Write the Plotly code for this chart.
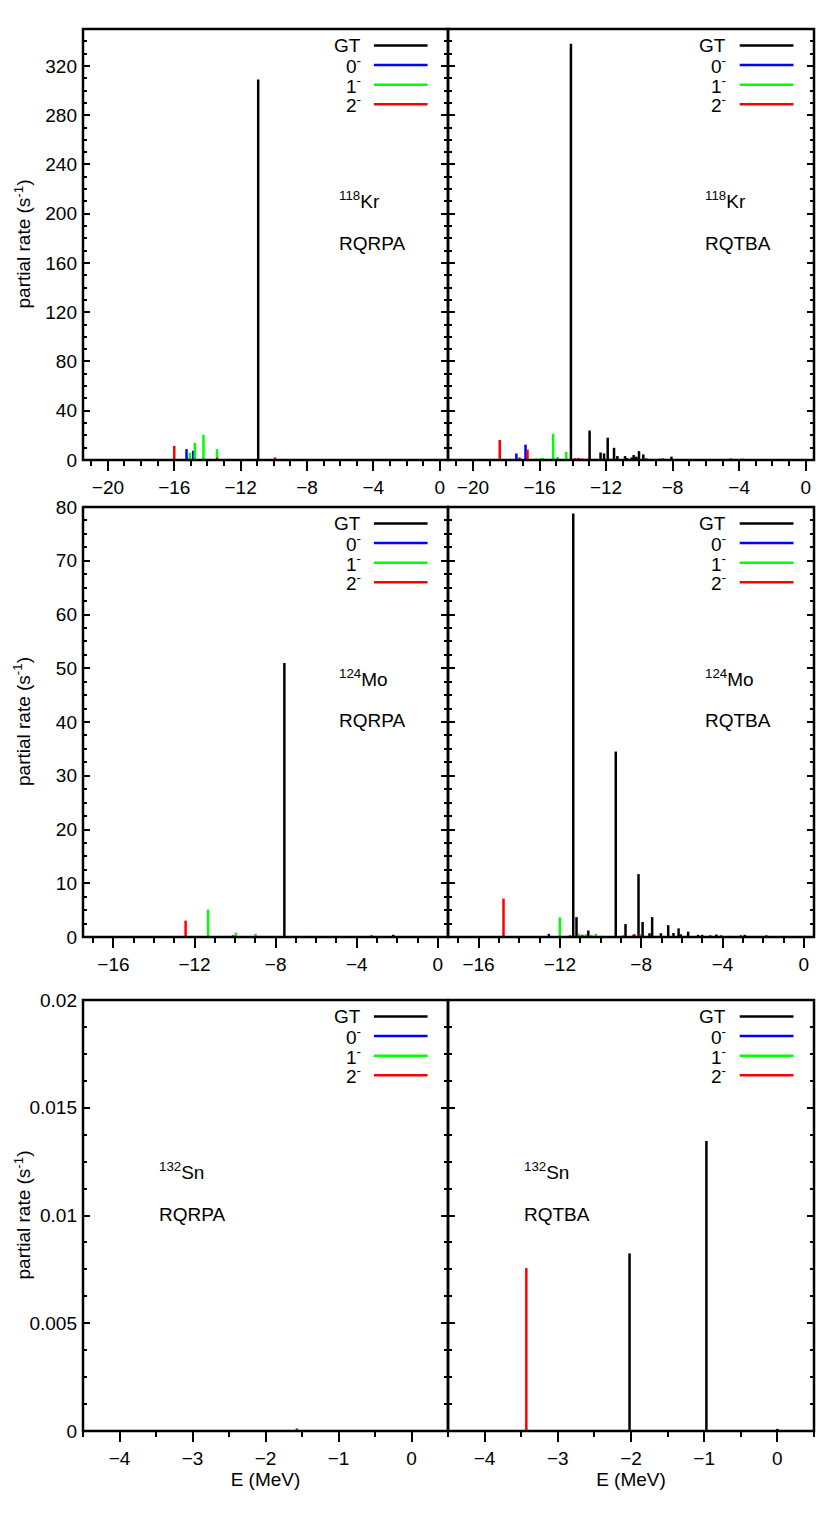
import plotly.graph_objects as go

# ---- data: decay energy E (MeV) and partial rate (1/s) per channel ----
# 118Kr, RQRPA
kr_qrpa_gt_e = [-10.94, -5.7]
kr_qrpa_gt_r = [309, 0.5]
kr_qrpa_0m_e = [-15.26, -14.86, -11.5]
kr_qrpa_0m_r = [8.8, 7.5, 0.3]
kr_qrpa_1m_e = [-15.06, -14.76, -14.24, -13.42, -12.58]
kr_qrpa_1m_r = [5.9, 13.9, 20.5, 8.8, 0.5]
kr_qrpa_2m_e = [-16.0, -15.2, -14.5, -14.1, -13.42, -9.92]
kr_qrpa_2m_r = [11.5, 1.0, 0.8, 1.0, 2.0, 2.1]

# 118Kr, RQTBA
kr_qtba_gt_e = [-14.11, -12.99, -12.33, -12.12, -11.9, -11.52, -11.32, -10.86, -10.74,
                -10.46, -10.34, -10.18, -10.02, -9.76, -9.6, -9.3, -8.8, -8.6, -8.5,
                -8.07, -7.6, -7.2, -6.8, -6.4, -6.0, -5.5, -5.0, -4.5, -3.8]
kr_qtba_gt_r = [338, 24, 6.1, 5.3, 18.1, 9.9, 3.2, 3.2, 1.6,
                2.1, 4.0, 2.7, 7.2, 4.5, 1.3, 0.8, 1.0, 1.2, 0.9,
                2.7, 0.6, 0.5, 0.5, 0.4, 0.5, 0.4, 0.4, 1.2, 1.0]
kr_qtba_0m_e = [-17.39, -16.84, -13.67, -13.09, -12.0]
kr_qtba_0m_r = [5.3, 12.5, 1.5, 1.0, 0.4]
kr_qtba_1m_e = [-15.9, -15.8, -15.18, -14.92, -14.39, -12.63, -11.7, -11.1]
kr_qtba_1m_r = [1.6, 1.6, 21.3, 2.4, 6.7, 1.0, 1.0, 0.5]
kr_qtba_2m_e = [-18.39, -17.2, -16.72, -16.2, -13.87, -13.63, -13.43, -12.2, -10.1]
kr_qtba_2m_r = [16.3, 2.1, 8.5, 1.0, 1.5, 1.5, 1.2, 0.5, 0.6]

# 124Mo, RQRPA
mo_qrpa_gt_e = [-7.57, -3.27, -2.2]
mo_qrpa_gt_r = [51.0, 0.3, 0.4]
mo_qrpa_0m_e = [-10.1]
mo_qrpa_0m_r = [0.3]
mo_qrpa_1m_e = [-11.33, -9.96, -8.99, -7.32]
mo_qrpa_1m_r = [5.1, 0.8, 0.6, 0.15]
mo_qrpa_2m_e = [-12.44, -6.54]
mo_qrpa_2m_r = [3.05, 0.2]

# 124Mo, RQTBA
mo_qtba_gt_e = [-11.34, -11.18, -10.6, -9.25, -8.77, -8.34, -8.13, -7.93, -7.59, -7.46,
                -7.03, -6.67, -6.41, -6.16, -6.05, -5.69, -5.2, -5.0, -4.6, -4.3,
                -4.07, -3.66, -3.1, -2.9, -2.4, -1.84]
mo_qtba_gt_r = [78.8, 3.7, 1.2, 34.5, 2.4, 0.5, 11.7, 2.8, 0.7, 3.7,
                0.7, 2.2, 0.75, 1.6, 0.5, 1.0, 0.4, 0.4, 0.3, 0.45,
                0.3, 0.2, 0.3, 0.4, 0.2, 0.3]
mo_qtba_0m_e = [-12.54, -11.5, -10.0]
mo_qtba_0m_r = [0.6, 0.3, 0.2]
mo_qtba_1m_e = [-12.0, -11.05, -10.72, -10.23, -9.9]
mo_qtba_1m_r = [3.67, 0.6, 0.5, 0.6, 0.2]
mo_qtba_2m_e = [-14.77, -10.89, -10.45, -8.87, -8.38, -8.08]
mo_qtba_2m_r = [7.15, 0.4, 0.3, 0.3, 0.4, 0.5]

# 132Sn, RQRPA
sn_qrpa_gt_e, sn_qrpa_gt_r = [], []
sn_qrpa_0m_e, sn_qrpa_0m_r = [], []
sn_qrpa_1m_e, sn_qrpa_1m_r = [], []
sn_qrpa_2m_e = [-1.57]
sn_qrpa_2m_r = [0.00012]

# 132Sn, RQTBA
sn_qtba_gt_e = [-2.02, -0.97, 0.0]
sn_qtba_gt_r = [0.00824, 0.01346, 0.0001]
sn_qtba_0m_e, sn_qtba_0m_r = [], []
sn_qtba_1m_e, sn_qtba_1m_r = [], []
sn_qtba_2m_e = [-3.43]
sn_qtba_2m_r = [0.00756]

channel_names = ["GT", "0<sup>-</sup>", "1<sup>-</sup>", "2<sup>-</sup>"]
channel_colors = ["#000000", "#0000ff", "#00ff00", "#ff0000"]
nuclei = ["<sup>118</sup>Kr", "<sup>124</sup>Mo", "<sup>132</sup>Sn"]
models = ["RQRPA", "RQTBA"]

panels = [
    [(kr_qrpa_gt_e, kr_qrpa_gt_r), (kr_qrpa_0m_e, kr_qrpa_0m_r), (kr_qrpa_1m_e, kr_qrpa_1m_r), (kr_qrpa_2m_e, kr_qrpa_2m_r)],
    [(kr_qtba_gt_e, kr_qtba_gt_r), (kr_qtba_0m_e, kr_qtba_0m_r), (kr_qtba_1m_e, kr_qtba_1m_r), (kr_qtba_2m_e, kr_qtba_2m_r)],
    [(mo_qrpa_gt_e, mo_qrpa_gt_r), (mo_qrpa_0m_e, mo_qrpa_0m_r), (mo_qrpa_1m_e, mo_qrpa_1m_r), (mo_qrpa_2m_e, mo_qrpa_2m_r)],
    [(mo_qtba_gt_e, mo_qtba_gt_r), (mo_qtba_0m_e, mo_qtba_0m_r), (mo_qtba_1m_e, mo_qtba_1m_r), (mo_qtba_2m_e, mo_qtba_2m_r)],
    [(sn_qrpa_gt_e, sn_qrpa_gt_r), (sn_qrpa_0m_e, sn_qrpa_0m_r), (sn_qrpa_1m_e, sn_qrpa_1m_r), (sn_qrpa_2m_e, sn_qrpa_2m_r)],
    [(sn_qtba_gt_e, sn_qtba_gt_r), (sn_qtba_0m_e, sn_qtba_0m_r), (sn_qtba_1m_e, sn_qtba_1m_r), (sn_qtba_2m_e, sn_qtba_2m_r)],
]

# axis settings per row
x_ranges = [[-21.5, 0.5], [-17.5, 0.5], [-4.5, 0.5]]
x_dticks = [4, 4, 1]
x_minor = [1, 1, 0.5]
y_ranges = [[0, 350], [0, 80], [0, 0.02]]
y_dticks = [40, 10, 0.005]
y_minor = [10, 2.5, 0.00125]

# figure geometry in pixels (the page body adds an 8 px offset)
W, H = 814, 1523
ML, MR, MT, MB = 75, 8, 21, 100
plot_h = H - MT - MB
x_split = 365 / (W - ML - MR)
row_px = [(21, 452), (499, 929), (992, 1423)]


def py(p):
    return (H - MB - p) / plot_h


FONT = "Liberation Sans, Arial, Helvetica, sans-serif"
FS = 19

fig = go.Figure()
layout = dict(
    width=W, height=H,
    margin=dict(l=ML, r=MR, t=MT, b=MB),
    plot_bgcolor="white", paper_bgcolor="white",
    font=dict(family=FONT, size=FS, color="black"),
    showlegend=False,
)
annotations = []
shapes = []

for k, chans in enumerate(panels):
    row, col = divmod(k, 2)
    idx = k + 1
    xa = "x" if idx == 1 else f"x{idx}"
    ya = "y" if idx == 1 else f"y{idx}"

    for (e, r), color in zip(chans, channel_colors):
        xs, ys = [], []
        for ei, ri in zip(e, r):
            xs += [ei, ei, None]
            ys += [0, ri, None]
        fig.add_trace(go.Scatter(x=xs, y=ys, mode="lines", xaxis=xa, yaxis=ya,
                                 line=dict(color=color, width=2.5), hoverinfo="skip"))

    top, bot = row_px[row]
    layout[f"xaxis{idx}"] = dict(
        domain=[0, x_split] if col == 0 else [x_split, 1],
        anchor=ya, range=x_ranges[row], dtick=x_dticks[row], tick0=0,
        ticks="outside", ticklen=10, tickwidth=1.5, tickcolor="black",
        minor=dict(dtick=x_minor[row], tick0=0, ticks="outside", ticklen=5, tickwidth=1.5),
        showline=False, showgrid=False, zeroline=False,
        tickfont=dict(size=FS),
    )
    if row == 2:
        layout[f"xaxis{idx}"]["title"] = dict(text="E (MeV)", standoff=2, font=dict(size=FS))
    layout[f"yaxis{idx}"] = dict(
        domain=[py(bot), py(top)], anchor=xa,
        range=y_ranges[row], dtick=y_dticks[row], tick0=0,
        ticks="inside", ticklen=7, tickwidth=1.5, tickcolor="black",
        minor=dict(dtick=y_minor[row], tick0=0, ticks="inside", ticklen=4, tickwidth=1.5),
        showline=False, mirror="allticks",
        showgrid=False, zeroline=False, showticklabels=(col == 0),
        tickfont=dict(size=FS), ticklabelstandoff=5,
    )

    xref, yref = f"{xa} domain", f"{ya} domain"
    # panel frame
    shapes.append(dict(type="rect", x0=0, x1=1, y0=0, y1=1, xref=xref, yref=yref,
                       line=dict(color="black", width=2.5), layer="above"))

    # legend, text on the left and line sample on the right (gnuplot style)
    ph = bot - top
    for j, (name, color) in enumerate(zip(channel_names, channel_colors)):
        yy = 1 - (16.5 + 19.6 * j) / ph
        annotations.append(dict(text=name, x=0.766, y=yy, xref=xref, yref=yref,
                                xanchor="right", yanchor="middle", showarrow=False,
                                font=dict(size=FS)))
        shapes.append(dict(type="line", x0=0.797, x1=0.944, y0=yy, y1=yy,
                           xref=xref, yref=yref, line=dict(color=color, width=2.5)))

    # nucleus and model labels
    lx = 0.696 if row < 2 else 0.203
    annotations.append(dict(text=nuclei[row], x=lx, y=0.603, xref=xref, yref=yref,
                            xanchor="left", yanchor="middle", showarrow=False,
                            font=dict(size=FS)))
    annotations.append(dict(text=models[col], x=lx, y=0.503, xref=xref, yref=yref,
                            xanchor="left", yanchor="middle", showarrow=False,
                            font=dict(size=FS)))

    if col == 0:
        annotations.append(dict(text="partial rate (s<sup>-1</sup>)", textangle=-90,
                                x=(14 - ML) / (W - ML - MR), y=(py(top) + py(bot)) / 2,
                                xref="paper", yref="paper", xanchor="center", yanchor="middle",
                                showarrow=False, font=dict(size=FS)))

layout["annotations"] = annotations
layout["shapes"] = shapes
fig.update_layout(**layout)
fig.write_html("out.html")
